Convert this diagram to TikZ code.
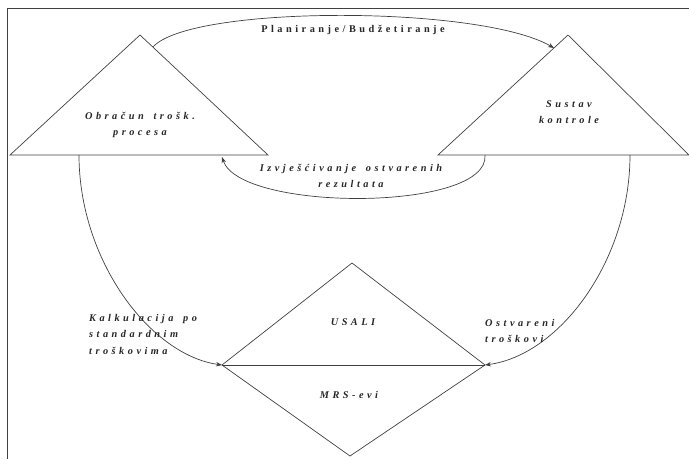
\documentclass[tikz,border=0pt]{standalone}
\usepackage{fontspec}
\setmainfont{Liberation Serif}
\newfontfamily\spaced[LetterSpace=34,WordSpace=1.6]{Liberation Serif}
\usetikzlibrary{arrows.meta}

\begin{document}
\begin{tikzpicture}[x=1pt,y=-1pt,
	lbl/.style={font=\spaced\fontsize{10.3}{16.5}\selectfont\bfseries\itshape, text=black!85, inner sep=0pt},
	edge/.style={black!75, line width=0.7pt},
	arr/.style={edge, -{Stealth[length=6pt,width=4.5pt]}}]
	\useasboundingbox (0,0) rectangle (689,459);
	
	\def\ytop{35}
	\def\ybase{155}
	\def\ymid{365}
	
	% frame
	\draw[edge] (689,8) -- (7,8) -- (7,459);
	
	% triangles and diamond
	\coordinate (Lt) at (140,\ytop);
	\coordinate (Ll) at (10,\ybase);
	\coordinate (Lr) at (268,\ybase);
	\coordinate (Rt) at (568,\ytop);
	\coordinate (Rl) at (438,\ybase);
	\coordinate (Rr) at (689,\ybase);
	\coordinate (Dt) at (352,263);
	\coordinate (Dl) at (222,\ymid);
	\coordinate (Dr) at (485,\ymid);
	\coordinate (Db) at (350,456);
	
	\draw[edge] (Ll) -- (Lt) -- (Lr) -- cycle;
	\draw[edge] (Rl) -- (Rt) -- (Rr) -- cycle;
	\draw[edge] (Dl) -- (Dt) -- (Dr) -- (Db) -- cycle;
	\draw[edge] (Dl) -- (Dr);
	
	% ends of the arrows
	\coordinate (p1) at (153,47);
	\coordinate (p2) at (554,48);
	\coordinate (i1) at (485,\ybase);
	\coordinate (i2) at (222,157);
	\coordinate (k1) at (79,\ybase);
	\coordinate (o1) at (630,\ybase);
	
	\draw[arr] (p1) .. controls (190,5) and (480,5) .. (p2);
	\draw[arr] (i1) .. controls (490,212) and (240,212) .. (i2);
	\draw[arr] (k1) .. controls (79,260) and (150,355) .. (Dl);
	\draw[arr] (o1) .. controls (630,260) and (560,355) .. (Dr);
	
	% texts
	\node[lbl, font=\spaced\fontsize{10.3}{16.5}\selectfont\bfseries] (plan) at (353,30) {Planiranje/Budžetiranje};
	\node[lbl, align=center] (obr) at (140,125) {Obračun trošk.\\procesa};
	\node[lbl, align=center] (sus) at (569,112) {Sustav\\kontrole};
	\node[lbl, align=center] (izv) at (351,176) {Izvješćivanje ostvarenih\\rezultata};
	\node[lbl, align=left, anchor=west] (kalk) at (89,334) {Kalkulacija po\\standardnim\\troškovima};
	\node[lbl, align=left, anchor=west] (ostv) at (485,331) {Ostvareni\\troškovi};
	\node[lbl] (usali) at (353,322) {USALI};
	\node[lbl] (mrs) at (349,395) {MRS-evi};
	
\end{tikzpicture}
\end{document}
